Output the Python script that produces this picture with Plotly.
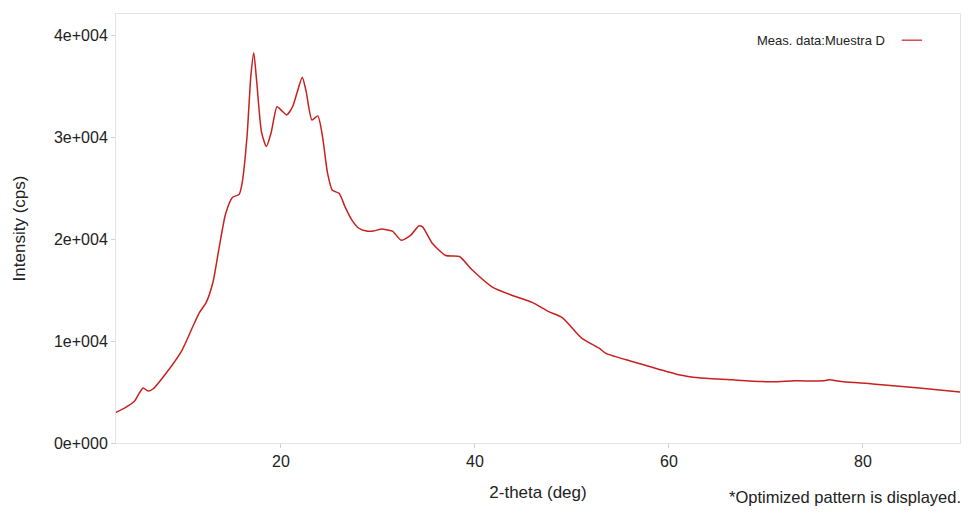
import plotly.graph_objects as go

two_theta = [3.0, 4.0, 4.9, 5.4, 5.8, 6.3, 6.8, 8.2, 9.8, 11.0, 11.6, 12.3, 13.0, 13.6,
             14.3, 15.0, 15.7, 16.0, 16.5, 16.9, 17.2, 17.5, 18.0, 18.5, 19.0, 19.6,
             20.1, 20.6, 21.2, 21.7, 22.2, 22.6, 23.2, 23.8, 24.3, 24.8, 25.3, 26.0,
             26.6, 27.3, 28.0, 28.8, 29.5, 30.4, 31.0, 31.5, 32.4, 33.4, 34.2, 34.6,
             35.6, 37.0, 38.4, 39.7, 41.8, 43.8, 45.9, 47.6, 49.0, 51.0, 52.8, 53.5,
             56.2, 58.0, 61.0, 63.1, 66.5, 70.6, 73.0, 76.0, 76.5, 78.0, 81.0, 85.8, 90.0]
intensity = [3000, 3500, 4100, 4900, 5400, 5100, 5300, 6900, 9100, 11600, 12800, 13800,
             15800, 19000, 22500, 24100, 24400, 25500, 30000, 36000, 38300, 35500, 30500,
             29100, 30500, 33000, 32600, 32200, 33000, 34500, 35900, 34500, 31700, 32100,
             30000, 26500, 24800, 24500, 23200, 21900, 21100, 20800, 20800, 21000, 20900,
             20800, 19900, 20400, 21300, 21200, 19600, 18400, 18300, 17000, 15300, 14500,
             13800, 12900, 12300, 10300, 9300, 8800, 8000, 7500, 6700, 6400, 6200, 6000,
             6100, 6100, 6200, 6000, 5800, 5400, 5000]
y_ticks = [0, 10000, 20000, 30000, 40000]
y_tick_labels = ["0e+000", "1e+004", "2e+004", "3e+004", "4e+004"]
x_ticks = [20, 40, 60, 80]
series_name = "Meas. data:Muestra D"

line_color = "#c8201e"
font_family = "Liberation Sans, Arial, sans-serif"

fig = go.Figure()
fig.add_trace(go.Scatter(
    x=two_theta, y=intensity, mode="lines", name=series_name,
    line=dict(color=line_color, width=1.5, shape="spline", smoothing=0.6),
    showlegend=False,
))

fig.update_layout(
    width=963, height=506,
    margin=dict(l=108, r=11, t=6, b=71),
    paper_bgcolor="white", plot_bgcolor="white",
    font=dict(family=font_family, color="#222222", size=16),
    xaxis=dict(range=[3, 90], tickvals=x_ticks, showgrid=False, zeroline=False,
               showline=True, linecolor="#e3e3e3", linewidth=1, mirror=True,
               ticks="outside", ticklen=4, tickcolor="#d0d0d0", automargin=False,
               tickfont=dict(size=16),
               title=dict(text="2-theta (deg)", font=dict(size=17), standoff=16)),
    yaxis=dict(range=[0, 42100], tickvals=y_ticks, ticktext=y_tick_labels,
               showgrid=False, zeroline=False,
               showline=True, linecolor="#e3e3e3", linewidth=1, mirror=True,
               ticks="outside", ticklen=4, tickcolor="#d0d0d0", automargin=False,
               tickfont=dict(size=16),
               title=dict(text="Intensity (cps)", font=dict(size=17), standoff=24)),
)

# legend (text left, line sample right as in the reference)
fig.add_annotation(xref="paper", yref="paper", x=0.9135, y=0.939, xanchor="right",
                   yanchor="middle", text=series_name, showarrow=False,
                   font=dict(size=13, color="#222222"))
fig.add_shape(type="line", xref="paper", yref="paper", x0=0.931, x1=0.955,
              y0=0.939, y1=0.939, line=dict(color=line_color, width=1.2))

fig.add_annotation(xref="paper", yref="paper", x=1.004, y=-0.126, xanchor="right",
                   yanchor="middle", text="*Optimized pattern is displayed.",
                   showarrow=False, font=dict(size=16.5, color="#222222"))

fig.write_html("out.html")
